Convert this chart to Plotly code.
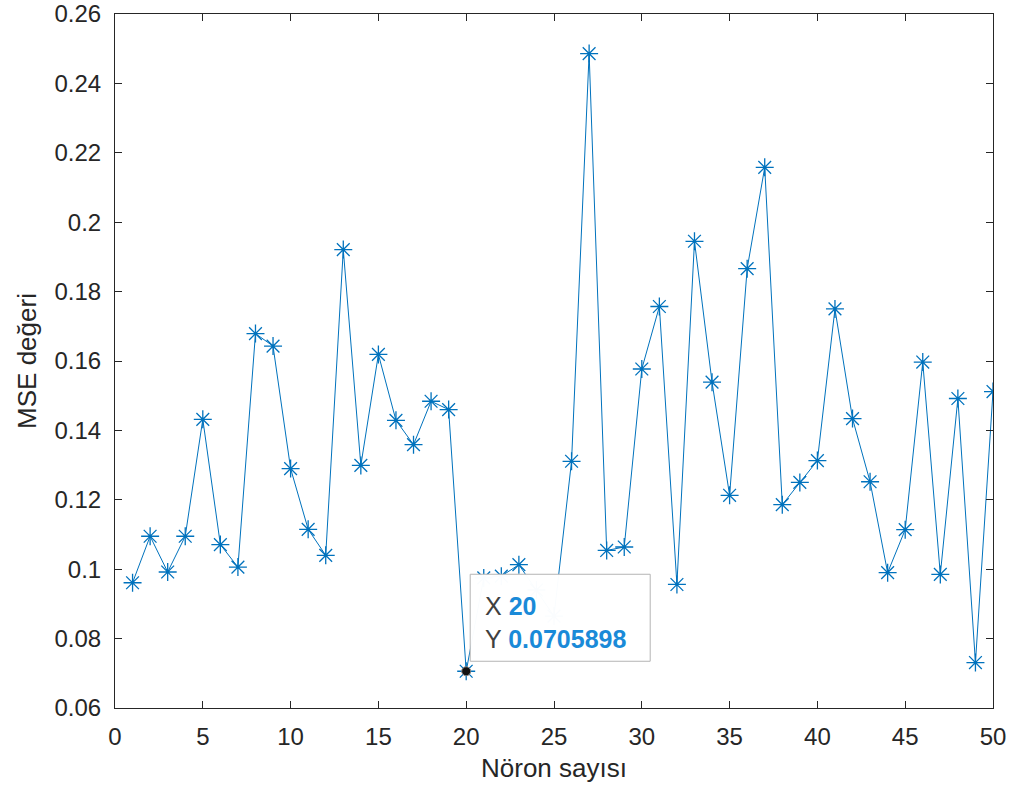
import plotly.graph_objects as go

neurons = list(range(1, 51))
mse = [0.0961, 0.1095, 0.0992, 0.1095, 0.1432, 0.1071, 0.1006, 0.1679, 0.1643, 0.1290,
       0.1115, 0.1040, 0.1921, 0.1299, 0.1619, 0.1429, 0.1359, 0.1484, 0.1460, 0.0705898,
       0.0975, 0.0980, 0.1013, 0.0940, 0.0865, 0.1311, 0.2486, 0.1054, 0.1064, 0.1577,
       0.1757, 0.0956, 0.1945, 0.1539, 0.1213, 0.1866, 0.2158, 0.1186, 0.1250, 0.1313,
       0.1750, 0.1434, 0.1252, 0.0990, 0.1114, 0.1597, 0.0985, 0.1492, 0.0731, 0.1512]

x_ticks = [0, 5, 10, 15, 20, 25, 30, 35, 40, 45, 50]
x_ticktext = ["0", "5", "10", "15", "20", "25", "30", "35", "40", "45", "50"]
y_ticks = [0.06, 0.08, 0.10, 0.12, 0.14, 0.16, 0.18, 0.20, 0.22, 0.24, 0.26]
y_ticktext = ["0.06", "0.08", "0.1", "0.12", "0.14", "0.16", "0.18", "0.2", "0.22", "0.24", "0.26"]

tip_x = 20
tip_y = 0.0705898

FONT = "Liberation Sans, Arial, Helvetica, sans-serif"
AXC = "#262626"
BLUE = "#0072BD"
TIPBLUE = "#1A8AD8"

fig = go.Figure()
fig.add_trace(go.Scatter(
    x=neurons, y=mse, mode="lines+markers",
    line=dict(color=BLUE, width=1),
    marker=dict(symbol="asterisk-open", size=15, line=dict(color=BLUE, width=1.3)),
    showlegend=False, hoverinfo="x+y",
))
fig.add_trace(go.Scatter(
    x=[tip_x], y=[tip_y], mode="markers",
    marker=dict(symbol="circle", size=9, color="#111111", line=dict(color="#888888", width=1)),
    showlegend=False, hoverinfo="skip",
))

# datatip box (pixel-sized, anchored at the datatip point)
fig.add_shape(
    type="rect", layer="above",
    xref="x", yref="y", xsizemode="pixel", ysizemode="pixel",
    xanchor=tip_x, yanchor=tip_y,
    x0=4, x1=184, y0=10, y1=97,
    fillcolor="rgba(255,255,255,0.98)", line=dict(color="#b4b4b4", width=1),
)
fig.add_annotation(
    x=tip_x, y=tip_y, xref="x", yref="y",
    xanchor="left", yanchor="middle", xshift=17, yshift=49,
    showarrow=False, align="left",
    font=dict(family=FONT, size=25, color="#404040"),
    text=("X <span style='color:%s'><b>%d</b></span><br>"
          "Y <span style='color:%s'><b>%s</b></span>") % (TIPBLUE, tip_x, TIPBLUE, "%.7f" % tip_y),
)

axis_common = dict(
    showline=True, linecolor=AXC, linewidth=1, mirror="ticks",
    ticks="inside", ticklen=7, tickwidth=1, tickcolor=AXC,
    showgrid=False, zeroline=False, automargin=False,
    tickfont=dict(family=FONT, size=24, color=AXC),
)

fig.update_layout(
    width=1015, height=794,
    margin=dict(l=115, r=22, t=14, b=86),
    paper_bgcolor="white", plot_bgcolor="white",
    font=dict(family=FONT, color=AXC),
    xaxis=dict(range=[0, 50], tickvals=x_ticks, ticktext=x_ticktext,
               title=dict(text="Nöron sayısı", font=dict(family=FONT, size=26, color=AXC), standoff=10),
               ticklabelstandoff=7, **axis_common),
    yaxis=dict(range=[0.06, 0.26], tickvals=y_ticks, ticktext=y_ticktext,
               title=dict(text="MSE değeri", font=dict(family=FONT, size=26, color=AXC), standoff=10),
               ticklabelstandoff=8, **axis_common),
)

fig.write_html("out.html")
